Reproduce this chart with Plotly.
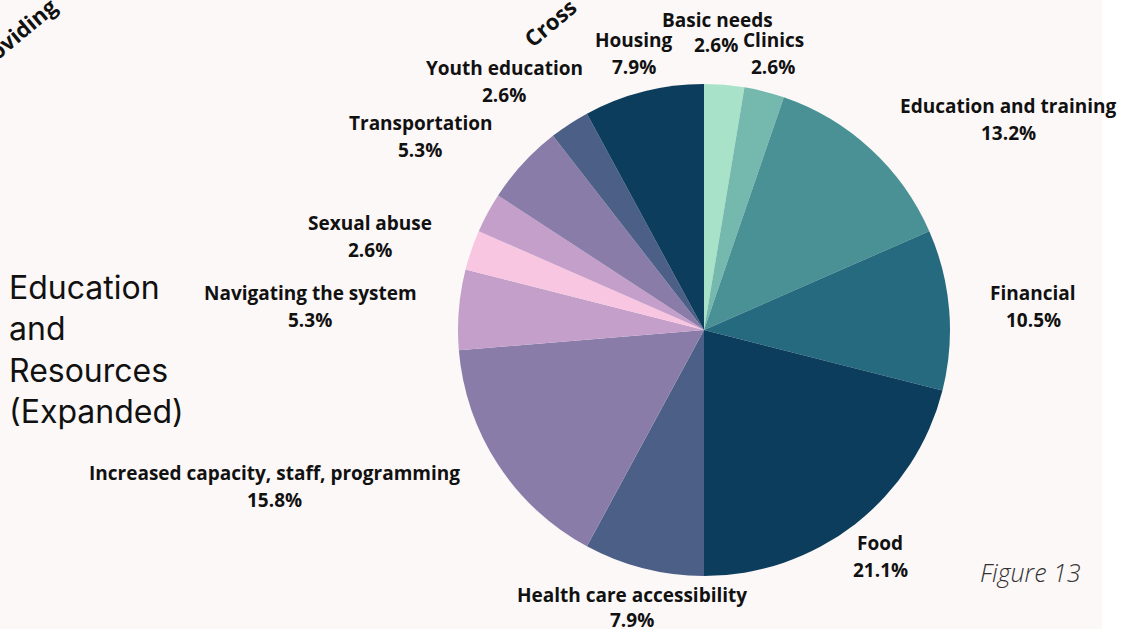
import plotly.graph_objects as go

# Responses per category (n = 38), clockwise from 12 o'clock
categories = [
    "Basic needs", "Clinics", "Education and training", "Financial", "Food",
    "Health care accessibility", "Increased capacity, staff, programming",
    "Navigating the system", "Other", "Sexual abuse", "Transportation",
    "Youth education", "Housing",
]
counts = [1, 1, 5, 4, 8, 3, 6, 2, 1, 1, 2, 1, 3]
show_label = [True, True, True, True, True, True, True, True, False, True, True, True, True]

colors = [
    "#A8E2C8", "#74B8AE", "#4A9196", "#256A7E", "#0D3D5C",
    "#4C5F87", "#8A7CA8", "#C49FCA", "#F9C6E2", "#C49FCA",
    "#8A7CA8", "#4C5F87", "#0D3D5C",
]

# Label anchor points in pixels (centre of the category line)
label_xy = {
    "Basic needs": (717, 20),
    "Clinics": (773, 40),
    "Education and training": (1008, 106),
    "Financial": (1033, 293),
    "Food": (880, 543),
    "Health care accessibility": (632, 595),
    "Increased capacity, staff, programming": (274, 473),
    "Navigating the system": (310, 293),
    "Sexual abuse": (370, 223),
    "Transportation": (420, 123),
    "Youth education": (504, 68),
    "Housing": (634, 40),
}
pct_xy = {
    "Basic needs": (716, 45),
    "Health care accessibility": (632, 620),
}

W, H = 1130, 629
cx, cy, r = 704, 330, 246

total = sum(counts)

fig = go.Figure(go.Pie(
    labels=categories,
    values=counts,
    sort=False,
    direction="clockwise",
    rotation=0,
    marker=dict(colors=colors, line=dict(width=0)),
    textinfo="none",
    hoverinfo="label+percent",
    showlegend=False,
    domain=dict(x=[(cx - r) / W, (cx + r) / W], y=[1 - (cy + r) / H, 1 - (cy - r) / H]),
))

LABEL_FONT = dict(family="Open Sans", size=19, color="#111111")

annotations = []
for cat, cnt, show in zip(categories, counts, show_label):
    if not show:
        continue
    x, y = label_xy[cat]
    px, py = pct_xy.get(cat, (x, y + 27))
    pct = 100.0 * cnt / total
    annotations.append(dict(x=x / W, y=1 - y / H, xref="paper", yref="paper",
                            text=f"<b>{cat}</b>", showarrow=False,
                            xanchor="center", yanchor="middle", font=LABEL_FONT))
    annotations.append(dict(x=px / W, y=1 - py / H, xref="paper", yref="paper",
                            text=f"<b>{pct:.1f}%</b>", showarrow=False,
                            xanchor="center", yanchor="middle", font=LABEL_FONT))

# Chart title on the left
title_lines = ["Education", "and", "Resources", "(Expanded)"]
for i, line in enumerate(title_lines):
    annotations.append(dict(x=7 / W, y=1 - (287 + 41.5 * i) / H, xref="paper", yref="paper",
                            text=line, showarrow=False, xanchor="left", yanchor="middle",
                            font=dict(family="Inter", size=32, color="#111111")))

# Figure caption
annotations.append(dict(x=1030 / W, y=1 - 572 / H, xref="paper", yref="paper",
                        text="<i>Figure 13</i>", showarrow=False, xanchor="center",
                        yanchor="middle",
                        font=dict(family="Open Sans", size=25, color="#333333", weight=300)))

# Rotated headings from neighbouring panels, cut by the page edge
annotations.append(dict(x=13 / W, y=1 - 36 / H, xref="paper", yref="paper",
                        text="<b>Providing</b>", showarrow=False, textangle=-40,
                        xanchor="center", yanchor="middle",
                        font=dict(family="Open Sans", size=22, color="#111111")))
annotations.append(dict(x=550 / W, y=1 - 22 / H, xref="paper", yref="paper",
                        text="<b>Cross</b>", showarrow=False, textangle=-40,
                        xanchor="center", yanchor="middle",
                        font=dict(family="Open Sans", size=22, color="#111111")))

fig.update_layout(
    width=W, height=H,
    margin=dict(l=0, r=0, t=0, b=0),
    paper_bgcolor="#FCF8F7",
    plot_bgcolor="#FCF8F7",
    annotations=annotations,
    shapes=[dict(type="rect", xref="paper", yref="paper", x0=1102 / W, x1=1, y0=0, y1=1,
                 fillcolor="#FFFFFF", line=dict(width=0), layer="below")],
)

fig.write_html("out.html")
